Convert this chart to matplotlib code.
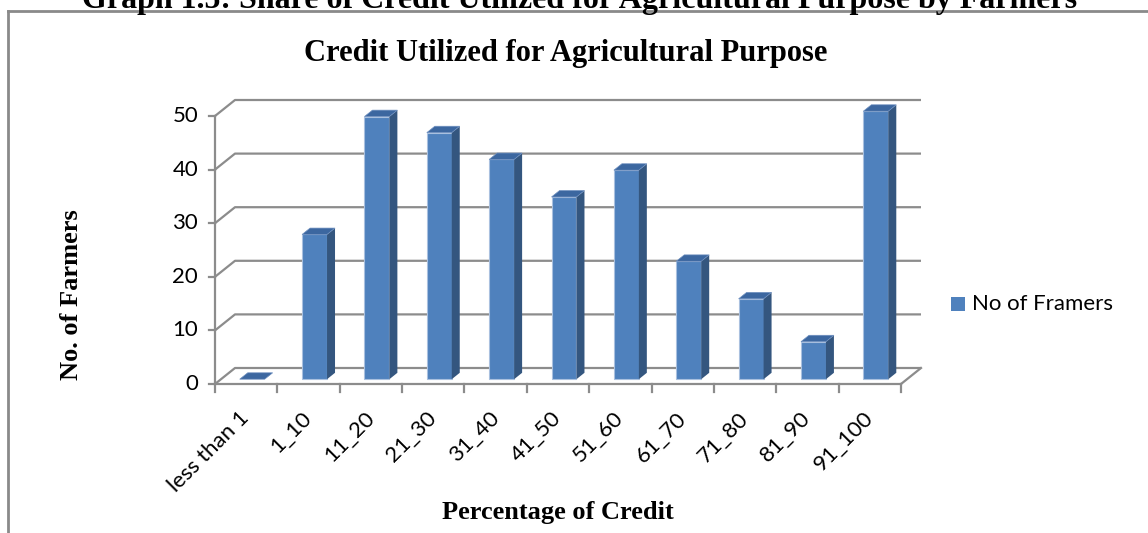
import matplotlib.pyplot as plt
from matplotlib.patches import Polygon, Rectangle

# data
categories = ['less than 1', '1_10', '11_20', '21_30', '31_40', '41_50',
              '51_60', '61_70', '71_80', '81_90', '91_100']
farmers = [0, 27, 49, 46, 41, 34, 39, 22, 15, 7, 50]
y_ticks = [0, 10, 20, 30, 40, 50]

W, H = 1148, 533
front_col = '#4F81BD'
side_col = '#34567F'
top_col = '#3C67A0'
grid_col = '#8C8C8C'
serif = 'Liberation Serif'
sans = 'Lato'


def main():
    fig = plt.figure(figsize=(W / 100, H / 100), dpi=100)

    # outer frame of the chart object (only top and left edges visible)
    fig.add_artist(plt.Line2D([8 / W, 1], [1 - 11 / H, 1 - 11 / H], color='#8A8A8A', lw=2))
    fig.add_artist(plt.Line2D([8 / W, 8 / W], [0, 1 - 11 / H], color='#8A8A8A', lw=2))

    # heading cut off at the top of the page
    fig.text(580 / W, 1 - 8 / H, 'Graph 1.5: Share of Credit Utilized for Agricultural Purpose by Farmers',
             ha='center', va='baseline', fontsize=23, fontweight='bold', family=serif)

    # plot area: front edge of the floor, 0..50 on the front axis
    x0, x1 = 215, 901
    y0, y1 = 384, 116
    ax = fig.add_axes([x0 / W, 1 - y0 / H, (x1 - x0) / W, (y0 - y1) / H])
    n = len(categories)
    ax.set_xlim(-0.5, n - 0.5)
    ax.set_ylim(0, 50)
    ax.axis('off')

    # depth of the 3d box in data units (20 px right, 16 px up)
    ddx = 20 / ((x1 - x0) / n)
    ddy = 16 / ((y0 - y1) / 50)

    lo, hi = -0.5, n - 0.5
    for v in y_ticks:
        ax.plot([lo, lo + ddx, hi + ddx], [v, v + ddy, v + ddy], color=grid_col, lw=1.6,
                clip_on=False, solid_capstyle='butt', zorder=1)
        # tick on front axis
        ax.plot([lo - 0.09, lo], [v, v], color=grid_col, lw=1.6, clip_on=False, zorder=1)
        ax.text(lo - 0.27, v, str(v), ha='right', va='center', fontsize=16, family=sans)
    # right floor diagonal, front edge, front axis
    ax.plot([hi, hi + ddx], [0, ddy], color=grid_col, lw=1.6, clip_on=False, zorder=1)
    ax.plot([lo, hi], [0, 0], color=grid_col, lw=1.6, clip_on=False, zorder=1)
    ax.plot([lo, lo], [0, 50], color=grid_col, lw=1.6, clip_on=False, zorder=1)
    for k in range(n + 1):
        ax.plot([lo + k, lo + k], [0, -1.5], color=grid_col, lw=1.6, clip_on=False, zorder=1)

    # bars with side and top faces
    bw = 0.4
    for i, v in enumerate(farmers):
        bx = i - bw / 2 + 0.3 * ddx
        by = 0.3 * ddy
        ex, ey = 0.4 * ddx, 0.4 * ddy
        if v > 0:
            ax.add_patch(Rectangle((bx, by), bw, v, facecolor=front_col,
                                   edgecolor='#A9C0DF', lw=0.8, clip_on=False, zorder=3))
            ax.add_patch(Polygon([(bx + bw, by), (bx + bw, by + v), (bx + bw + ex, by + v + ey),
                                  (bx + bw + ex, by + ey)], closed=True, facecolor=side_col,
                                 edgecolor='none', clip_on=False, zorder=3))
        ax.add_patch(Polygon([(bx, by + v), (bx + bw, by + v), (bx + bw + ex, by + v + ey),
                              (bx + ex, by + v + ey)], closed=True, facecolor=top_col,
                             edgecolor='#6E8FBF', lw=0.5, clip_on=False, zorder=4))

    # category labels
    for i, c in enumerate(categories):
        ax.text(i + 0.0, -5.8, c, rotation=45, rotation_mode='anchor', ha='right', va='center',
                fontsize=16, family=sans)

    # titles
    fig.text(566 / W, 1 - 53 / H, 'Credit Utilized for Agricultural Purpose', ha='center',
             va='center', fontsize=22, fontweight='bold', family=serif)
    fig.text(558 / W, 1 - 513 / H, 'Percentage of Credit', ha='center', va='center',
             fontsize=19, fontweight='bold', family=serif)
    fig.text(72 / W, 1 - 295 / H, 'No. of Farmers', ha='center', va='center', rotation=90,
             fontsize=19, fontweight='bold', family=serif)

    # legend
    fig.add_artist(Rectangle((951 / W, 1 - 311 / H), 14 / W, 14 / H, transform=fig.transFigure,
                             facecolor=front_col, edgecolor='none'))
    fig.text(972 / W, 1 - 304 / H, 'No of Framers', ha='left', va='center', fontsize=16, family=sans)

    fig.savefig('out.png', dpi=100)


if __name__ == '__main__':
    main()
